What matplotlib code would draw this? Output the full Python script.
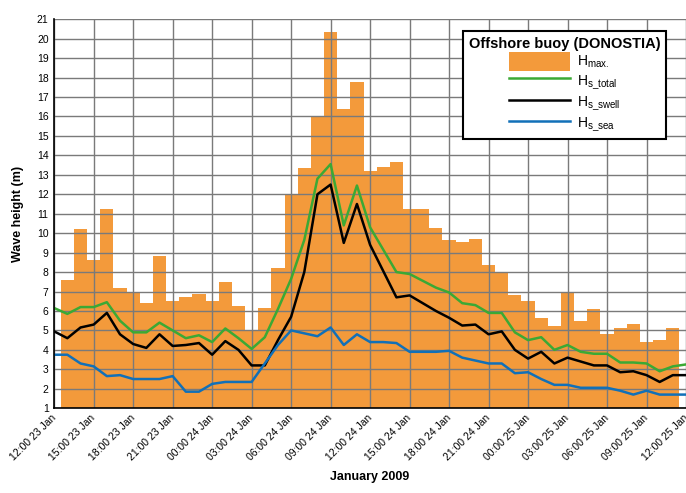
import matplotlib
matplotlib.use('Agg')
import matplotlib.pyplot as plt
import numpy as np

plt.rcParams['font.family'] = ['Liberation Sans', 'DejaVu Sans']

# Hourly values, 12:00 23 Jan 2009 to 12:00 25 Jan 2009 (49 hours)
hours = np.arange(49)

# Hmax bars from 13:00 23 Jan to 11:00 25 Jan
bar_hours = np.arange(1, 48)
h_max = [7.6, 10.2, 8.6, 11.25, 7.2, 6.9, 6.4, 8.85, 6.5, 6.7, 6.85, 6.5, 7.5,
         6.25, 5.0, 6.15, 8.2, 12.0, 13.35, 16.0, 20.35, 16.4, 17.75, 13.2, 13.4,
         13.65, 11.25, 11.25, 10.25, 9.65, 9.55, 9.7, 8.35, 7.95, 6.8, 6.5, 5.65,
         5.25, 7.0, 5.5, 6.1, 4.8, 5.1, 5.35, 4.4, 4.5, 5.1]

hs_total = [6.15, 5.85, 6.2, 6.2, 6.45, 5.5, 4.9, 4.9, 5.4, 5.0, 4.6, 4.75, 4.4,
            5.1, 4.6, 4.05, 4.65, 6.1, 7.65, 9.65, 12.8, 13.55, 10.4, 12.45, 10.3,
            9.15, 8.0, 7.9, 7.55, 7.2, 6.95, 6.4, 6.3, 5.9, 5.9, 4.9, 4.5, 4.65,
            4.0, 4.25, 3.9, 3.8, 3.8, 3.35, 3.35, 3.3, 2.9, 3.15, 3.25]

hs_swell = [4.95, 4.6, 5.15, 5.3, 5.9, 4.8, 4.3, 4.1, 4.8, 4.2, 4.25, 4.35, 3.75,
            4.45, 4.0, 3.2, 3.2, 4.5, 5.7, 8.0, 12.0, 12.5, 9.5, 11.5, 9.4, 8.05,
            6.7, 6.8, 6.4, 6.0, 5.65, 5.25, 5.3, 4.8, 4.95, 4.0, 3.55, 3.9, 3.3,
            3.6, 3.4, 3.2, 3.2, 2.85, 2.9, 2.7, 2.35, 2.7, 2.7]

hs_sea = [3.75, 3.75, 3.3, 3.15, 2.65, 2.7, 2.5, 2.5, 2.5, 2.65, 1.85, 1.85, 2.25,
          2.35, 2.35, 2.35, 3.3, 4.25, 5.0, 4.85, 4.7, 5.15, 4.25, 4.8, 4.4, 4.4,
          4.35, 3.9, 3.9, 3.9, 3.95, 3.6, 3.45, 3.3, 3.3, 2.8, 2.85, 2.5, 2.2,
          2.2, 2.05, 2.05, 2.05, 1.9, 1.7, 1.9, 1.7, 1.7, 1.7]

tick_labels = ['12:00 23 Jan', '15:00 23 Jan', '18:00 23 Jan', '21:00 23 Jan',
               '00:00 24 Jan', '03:00 24 Jan', '06:00 24 Jan', '09:00 24 Jan',
               '12:00 24 Jan', '15:00 24 Jan', '18:00 24 Jan', '21:00 24 Jan',
               '00:00 25 Jan', '03:00 25 Jan', '06:00 25 Jan', '09:00 25 Jan',
               '12:00 25 Jan']

fig = plt.figure(figsize=(6.86, 4.93), dpi=100)
ax = fig.add_axes([0.079, 0.172, 0.921, 0.789])

bars = ax.bar(bar_hours, h_max, width=1.0, bottom=0, color='#F39A3B', zorder=1,
              label=r'H$_\mathregular{max.}$')
l_tot, = ax.plot(hours, hs_total, color='#3BA935', lw=1.8, zorder=3,
                 label=r'H$_\mathregular{s\_total}$')
l_sw, = ax.plot(hours, hs_swell, color='black', lw=1.8, zorder=3,
                label=r'H$_\mathregular{s\_swell}$')
l_sea, = ax.plot(hours, hs_sea, color='#1170B8', lw=1.8, zorder=3,
                 label=r'H$_\mathregular{s\_sea}$')

ax.set_xlim(0, 48)
ax.set_ylim(1, 21)
ax.set_yticks(range(1, 22))
ax.set_xticks(range(0, 49, 3))
ax.set_xticklabels(tick_labels, rotation=45, ha='right', va='center',
                   rotation_mode='anchor')
ax.tick_params(axis='both', labelsize=7.5, length=0, pad=4)
ax.tick_params(axis='x', pad=6)

ax.set_axisbelow('line')
ax.grid(True, color='#7a7a7a', lw=1.0, zorder=2)
for s in ['top', 'right']:
    ax.spines[s].set_visible(False)
for s in ['left', 'bottom']:
    ax.spines[s].set_color('black')
    ax.spines[s].set_linewidth(1.2)
    ax.spines[s].set_zorder(4)

ax.set_xlabel('January 2009', fontsize=9, fontweight='bold', labelpad=6)
ax.set_ylabel('Wave height (m)', fontsize=9, fontweight='bold', labelpad=9)

leg = ax.legend(handles=[bars, l_tot, l_sw, l_sea],
                loc='upper right', bbox_to_anchor=(0.968, 0.969),
                title='Offshore buoy (DONOSTIA)', fontsize=10,
                title_fontproperties={'weight': 'bold', 'size': 10.5},
                fancybox=False, framealpha=1, edgecolor='black',
                handlelength=4.4, handleheight=1.75, labelspacing=0.05,
                borderpad=0.4, handletextpad=0.5, borderaxespad=0)
leg.get_frame().set_linewidth(1.5)
leg.set_zorder(5)

fig.savefig('out.png', dpi=100)
